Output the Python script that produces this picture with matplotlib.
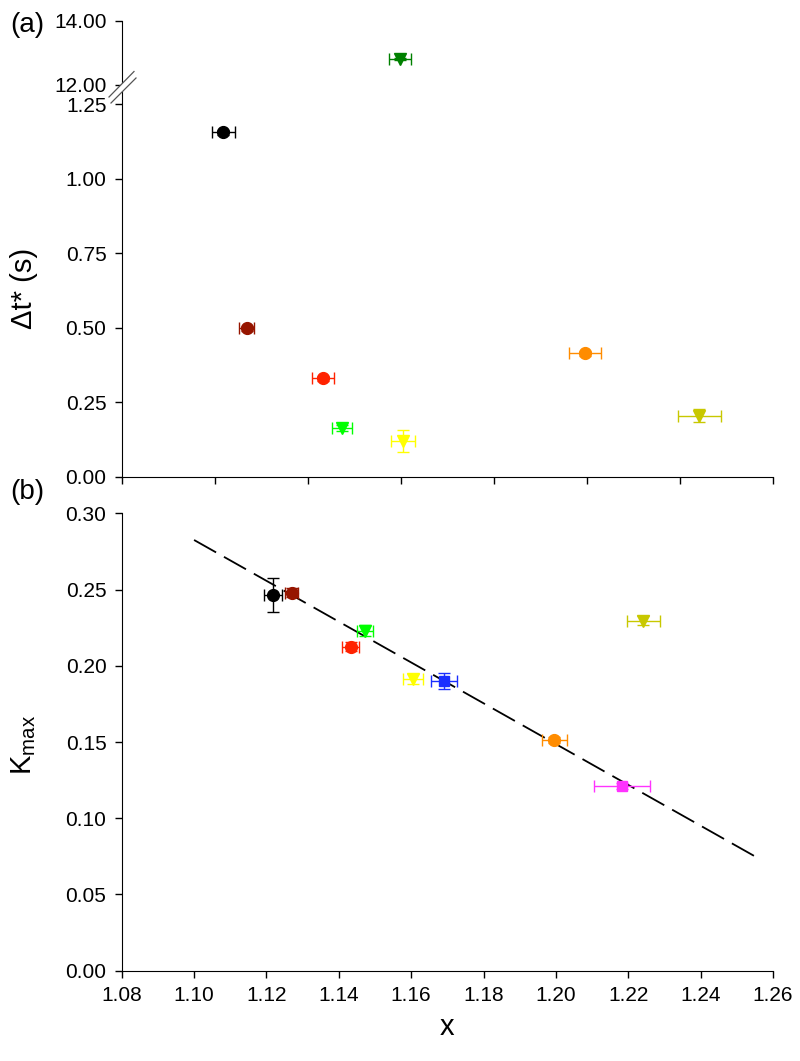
import numpy as np
import matplotlib
matplotlib.use('Agg')
import matplotlib.pyplot as plt
from matplotlib.patches import Polygon

plt.rcParams['font.family'] = ['Liberation Sans', 'DejaVu Sans']
plt.rcParams['mathtext.default'] = 'regular'

# ---- panel (a): delta t* vs x ----
a_x    = [1.1081, 1.1145, 1.1357, 1.1408, 1.1578, 1.2080, 1.2396]
a_y    = [1.155, 0.498, 0.330, 0.163, 0.121, 0.414, 0.205]
a_xerr = [0.0032, 0.0021, 0.0030, 0.0028, 0.0033, 0.0044, 0.0059]
a_yerr = [0.008, 0.008, 0.008, 0.010, 0.037, 0.008, 0.022]
a_col  = ['black', '#961500', '#FF2200', '#00FF00', '#FFFF00', '#FF8C00', '#C8C800']
a_mk   = ['o', 'o', 'o', 'v', 'v', 'o', 'v']

# the one point above the axis break
a_hi_x, a_hi_y, a_hi_xerr, a_hi_yerr = 1.1569, 12.81, 0.0030, 0.04
a_hi_col = '#008000'

# ---- panel (b): K_max vs x ----
b_x    = [1.1219, 1.1270, 1.1472, 1.1433, 1.1606, 1.1691, 1.1996, 1.2182, 1.2242]
b_y    = [0.2464, 0.2479, 0.2230, 0.2125, 0.1913, 0.1900, 0.1513, 0.1210, 0.2296]
b_xerr = [0.0025, 0.0018, 0.0022, 0.0024, 0.0028, 0.0035, 0.0035, 0.0078, 0.0046]
b_yerr = [0.011, 0.003, 0.0036, 0.003, 0.003, 0.005, 0.002, 0.002, 0.003]
b_col  = ['black', '#961500', '#00FF00', '#FF2200', '#FFFF00', '#1A2EFF', '#FF8C00', '#FF33FF', '#C8C800']
b_mk   = ['o', 'o', 'v', 'o', 'v', 's', 'o', 's', 'v']

fit_x = [1.10, 1.255]
fit_y = [0.2825, 0.0750]

W, H = 800, 1061
fig = plt.figure(figsize=(W / 100, H / 100), dpi=100)

def box(l, r, top, bot):
    return [l / W, 1 - bot / H, (r - l) / W, (bot - top) / H]

xl, xr = 121.7, 773
ax_hi = fig.add_axes(box(xl, xr, 20.7, 104))
ax_a = fig.add_axes(box(xl, xr, 104, 476.7))
ax_b = fig.add_axes(box(xl, xr, 513.3, 970.7))

def style(ax):
    for s in ['top', 'right']:
        ax.spines[s].set_visible(False)
    ax.tick_params(direction='out', length=5, width=1, labelsize=15, pad=6)
    ax.set_xlim(1.08, 1.26)

for ax in (ax_hi, ax_a, ax_b):
    style(ax)

def draw_points(ax, xs, ys, xe, ye, cols, mks):
    for x, y, dx, dy, c, m in zip(xs, ys, xe, ye, cols, mks):
        ms = 7 if m == 's' else 8.5
        ax.errorbar(x, y, xerr=dx, yerr=dy, fmt=m, color=c, ms=ms,
                    ecolor=c, elinewidth=1, capsize=4, capthick=1, clip_on=False)

# (a) lower part
draw_points(ax_a, a_x, a_y, a_xerr, a_yerr, a_col, a_mk)
ax_a.set_ylim(0, 1.25)
ax_a.set_yticks(np.arange(0, 1.26, 0.25))
ax_a.set_yticklabels(['%.2f' % v for v in np.arange(0, 1.26, 0.25)])
ax_a.set_xticks(np.linspace(1.08, 1.26, 8))
ax_a.set_xticklabels([])

# (a) upper part
draw_points(ax_hi, [a_hi_x], [a_hi_y], [a_hi_xerr], [a_hi_yerr], [a_hi_col], ['v'])
ax_hi.set_ylim(14 - 83.3 / 32.15, 14)
ax_hi.set_yticks([12, 14])
ax_hi.set_yticklabels(['12.00', '14.00'])
ax_hi.spines['bottom'].set_visible(False)
ax_hi.set_xticks([])
ax_hi.patch.set_visible(False)

# break marks
def fx(px):
    return px / W
def fy(py):
    return 1 - py / H
gap = Polygon([(fx(109), fy(97)), (fx(134), fy(71.5)), (fx(136), fy(78)), (fx(111), fy(103))],
              closed=True, transform=fig.transFigure, facecolor='white', edgecolor='none', zorder=10)
fig.patches.append(gap)
fig.lines.append(plt.Line2D([fx(109), fx(134)], [fy(97), fy(71.5)], transform=fig.transFigure,
                            color='#555555', lw=0.9, zorder=11))
fig.lines.append(plt.Line2D([fx(111), fx(136)], [fy(103), fy(78)], transform=fig.transFigure,
                            color='#555555', lw=0.9, zorder=11))

# (b)
ax_b.plot(fit_x, fit_y, color='black', lw=1.3, dashes=(14, 5), zorder=1)
draw_points(ax_b, b_x, b_y, b_xerr, b_yerr, b_col, b_mk)
ax_b.set_ylim(0, 0.30)
yt = np.arange(0, 0.301, 0.05)
ax_b.set_yticks(yt)
ax_b.set_yticklabels(['%.2f' % v for v in yt])
xt = np.arange(1.08, 1.261, 0.02)
ax_b.set_xticks(xt)
ax_b.set_xticklabels(['%.2f' % v for v in xt])

# labels
fig.text(fx(27), fy(25), '(a)', fontsize=20, ha='center', va='center')
fig.text(fx(27), fy(492), '(b)', fontsize=20, ha='center', va='center')
fig.text(fx(24), fy(288), '\u0394t* (s)', fontsize=21, rotation=90, ha='center', va='center')
fig.text(fx(24), fy(745), 'K$_{max}$', fontsize=21, rotation=90, ha='center', va='center')
fig.text(fx(447), fy(1027), 'x', fontsize=21, ha='center', va='center')

plt.savefig('out.png', dpi=100)
